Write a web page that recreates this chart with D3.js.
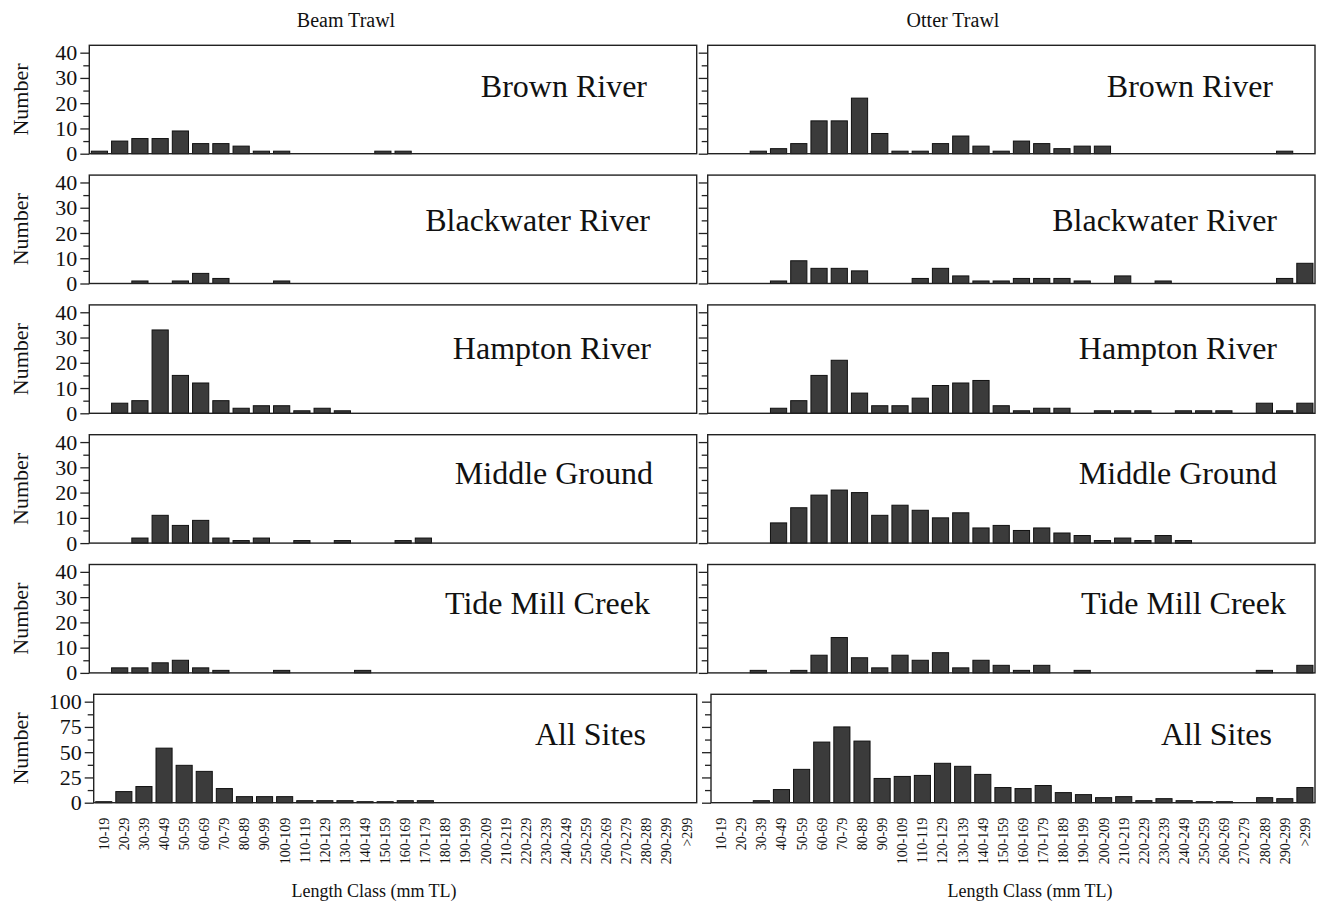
<!DOCTYPE html>
<html>
<head>
<meta charset="utf-8">
<script src="https://cdnjs.cloudflare.com/ajax/libs/d3/7.8.5/d3.min.js"></script>
<style>
  body { margin: 0; background: #fff; }
  text { font-family: "Liberation Serif", "Times New Roman", serif; fill: #111; }
</style>
</head>
<body>
<svg></svg>
<script>
let lengthClasses = ["10-19", "20-29", "30-39", "40-49", "50-59", "60-69", "70-79", "80-89", "90-99",
  "100-109", "110-119", "120-129", "130-139", "140-149", "150-159", "160-169", "170-179", "180-189",
  "190-199", "200-209", "210-219", "220-229", "230-239", "240-249", "250-259", "260-269", "270-279",
  "280-289", "290-299", ">299"];

let gears = ["Beam Trawl", "Otter Trawl"];
let sites = ["Brown River", "Blackwater River", "Hampton River", "Middle Ground", "Tide Mill Creek", "All Sites"];

let siteTicks = [0, 10, 20, 30, 40];
let allTicks = [0, 25, 50, 75, 100];

// beam trawl counts per length class
let beamBrown = [1, 5, 6, 6, 9, 4, 4, 3, 1, 1, 0, 0, 0, 0, 1, 1, 0, 0, 0, 0, 0, 0, 0, 0, 0, 0, 0, 0, 0, 0];
let beamBlackwater = [0, 0, 1, 0, 1, 4, 2, 0, 0, 1, 0, 0, 0, 0, 0, 0, 0, 0, 0, 0, 0, 0, 0, 0, 0, 0, 0, 0, 0, 0];
let beamHampton = [0, 4, 5, 33, 15, 12, 5, 2, 3, 3, 1, 2, 1, 0, 0, 0, 0, 0, 0, 0, 0, 0, 0, 0, 0, 0, 0, 0, 0, 0];
let beamMiddle = [0, 0, 2, 11, 7, 9, 2, 1, 2, 0, 1, 0, 1, 0, 0, 1, 2, 0, 0, 0, 0, 0, 0, 0, 0, 0, 0, 0, 0, 0];
let beamTide = [0, 2, 2, 4, 5, 2, 1, 0, 0, 1, 0, 0, 0, 1, 0, 0, 0, 0, 0, 0, 0, 0, 0, 0, 0, 0, 0, 0, 0, 0];
let beamAll = [1, 11, 16, 54, 37, 31, 14, 6, 6, 6, 2, 2, 2, 1, 1, 2, 2, 0, 0, 0, 0, 0, 0, 0, 0, 0, 0, 0, 0, 0];

// otter trawl counts per length class
let otterBrown = [0, 0, 1, 2, 4, 13, 13, 22, 8, 1, 1, 4, 7, 3, 1, 5, 4, 2, 3, 3, 0, 0, 0, 0, 0, 0, 0, 0, 1, 0];
let otterBlackwater = [0, 0, 0, 1, 9, 6, 6, 5, 0, 0, 2, 6, 3, 1, 1, 2, 2, 2, 1, 0, 3, 0, 1, 0, 0, 0, 0, 0, 2, 8];
let otterHampton = [0, 0, 0, 2, 5, 15, 21, 8, 3, 3, 6, 11, 12, 13, 3, 1, 2, 2, 0, 1, 1, 1, 0, 1, 1, 1, 0, 4, 1, 4];
let otterMiddle = [0, 0, 0, 8, 14, 19, 21, 20, 11, 15, 13, 10, 12, 6, 7, 5, 6, 4, 3, 1, 2, 1, 3, 1, 0, 0, 0, 0, 0, 0];
let otterTide = [0, 0, 1, 0, 1, 7, 14, 6, 2, 7, 5, 8, 2, 5, 3, 1, 3, 0, 1, 0, 0, 0, 0, 0, 0, 0, 0, 1, 0, 3];
let otterAll = [0, 0, 2, 13, 33, 60, 75, 61, 24, 26, 27, 39, 36, 28, 15, 14, 17, 10, 8, 5, 6, 2, 4, 2, 1, 1, 0, 5, 4, 15];

let beamSeries = [beamBrown, beamBlackwater, beamHampton, beamMiddle, beamTide, beamAll];
let otterSeries = [otterBrown, otterBlackwater, otterHampton, otterMiddle, otterTide, otterAll];

let width = 1322;
let height = 908;

let rowTop = 45.3;
let rowStep = 129.8;
let rowHeight = 108.4;
let colLeft = [[89.3, 696.7], [707.7, 1315]];
let colLeftLast = [[93.7, 696.7], [711, 1315]];

// site name placement (hand-placed in the original)
let nameEnd = [[647, 650, 651, 653, 650, 646], [1273, 1277, 1277, 1277, 1286, 1272]];
let nameDrop = [52, 56, 54, 49, 49, 51];

let svg = d3.select("svg")
  .attr("width", width)
  .attr("height", height);

let drawPanel = (col, row, values) => {
  let last = row === sites.length - 1;
  let [x0, x1] = last ? colLeftLast[col] : colLeft[col];
  let top = rowTop + row * rowStep;
  let bottom = top + rowHeight;
  let ticks = last ? allTicks : siteTicks;
  let tickStep = ticks[1] - ticks[0];
  let yMax = ticks[ticks.length - 1] * 1.073;

  let xScale = d3.scaleBand()
    .domain(lengthClasses)
    .range([x0, x1])
    .paddingInner(0.2)
    .paddingOuter(0.1);

  let yScale = d3.scaleLinear()
    .domain([0, yMax])
    .range([bottom, top]);

  let g = svg.append("g");

  // bars (empty classes not drawn)
  g.selectAll("rect.bar")
    .data(values.map((v, i) => ({ cls: lengthClasses[i], v: v })).filter((d) => d.v > 0))
    .enter()
    .append("rect")
    .attr("class", "bar")
    .attr("x", (d) => xScale(d.cls))
    .attr("y", (d) => yScale(d.v))
    .attr("width", xScale.bandwidth())
    .attr("height", (d) => yScale(0) - yScale(d.v))
    .attr("fill", "#3b3b3b")
    .attr("stroke", "#111")
    .attr("stroke-width", 1);

  // minor ticks
  let minorTicks = d3.range(tickStep / 2, yMax, tickStep);
  g.append("g")
    .attr("transform", "translate(" + x0 + ",0)")
    .call(d3.axisLeft(yScale).tickValues(minorTicks).tickSize(6).tickFormat(""))
    .call((a) => a.select(".domain").remove())
    .selectAll("line").attr("stroke", "#222").attr("stroke-width", 1.3);

  // major ticks, labels only on the beam trawl side
  let yAxis = d3.axisLeft(yScale)
    .tickValues(ticks)
    .tickSize(9)
    .tickPadding(3)
    .tickFormat(col === 0 ? d3.format("d") : "");

  let ya = g.append("g")
    .attr("transform", "translate(" + x0 + ",0)")
    .call(yAxis);
  ya.select(".domain").remove();
  ya.selectAll("line").attr("stroke", "#222").attr("stroke-width", 1.3);
  ya.selectAll("text")
    .style("font-family", "'Liberation Serif', serif")
    .style("font-size", "22px")
    .attr("fill", "#111");

  // frame
  g.append("rect")
    .attr("x", x0)
    .attr("y", top)
    .attr("width", x1 - x0)
    .attr("height", bottom - top)
    .attr("fill", "none")
    .attr("stroke", "#222")
    .attr("stroke-width", 1.4);

  // site name
  g.append("text")
    .attr("x", nameEnd[col][row])
    .attr("y", top + nameDrop[row])
    .attr("text-anchor", "end")
    .style("font-size", "32px")
    .text(sites[row]);

  if (col === 0) {
    g.append("text")
      .attr("transform", "translate(20," + (top + rowHeight / 2) + ") rotate(-90)")
      .attr("text-anchor", "middle")
      .attr("dominant-baseline", "central")
      .style("font-size", "22px")
      .text("Number");
  }

  if (last) {
    // length class labels under the bottom row
    let xAxis = d3.axisBottom(xScale).tickSize(0).tickPadding(0);
    let xa = g.append("g")
      .attr("transform", "translate(0," + bottom + ")")
      .attr("font-size", 14)
      .call(xAxis);
    xa.attr("font-size", 14).attr("font-family", "'Liberation Serif', serif");
    xa.select(".domain").remove();
    xa.selectAll("text")
      .style("font-family", "'Liberation Serif', serif")
      .style("font-size", "14px")
      .attr("fill", "#111")
      .attr("text-anchor", "end")
      .attr("transform", "rotate(-90)")
      .attr("x", -15)
      .attr("y", 0)
      .attr("dy", "0.35em");

    svg.append("text")
      .attr("x", col === 0 ? 374 : 1030)
      .attr("y", 897)
      .attr("text-anchor", "middle")
      .style("font-size", "18px")
      .text("Length Class (mm TL)");
  }
};

gears.forEach((gear, col) => {
  svg.append("text")
    .attr("x", col === 0 ? 346 : 953)
    .attr("y", 27)
    .attr("text-anchor", "middle")
    .style("font-size", "20px")
    .text(gear);

  let series = col === 0 ? beamSeries : otterSeries;
  series.forEach((values, row) => drawPanel(col, row, values));
});
</script>
</body>
</html>
